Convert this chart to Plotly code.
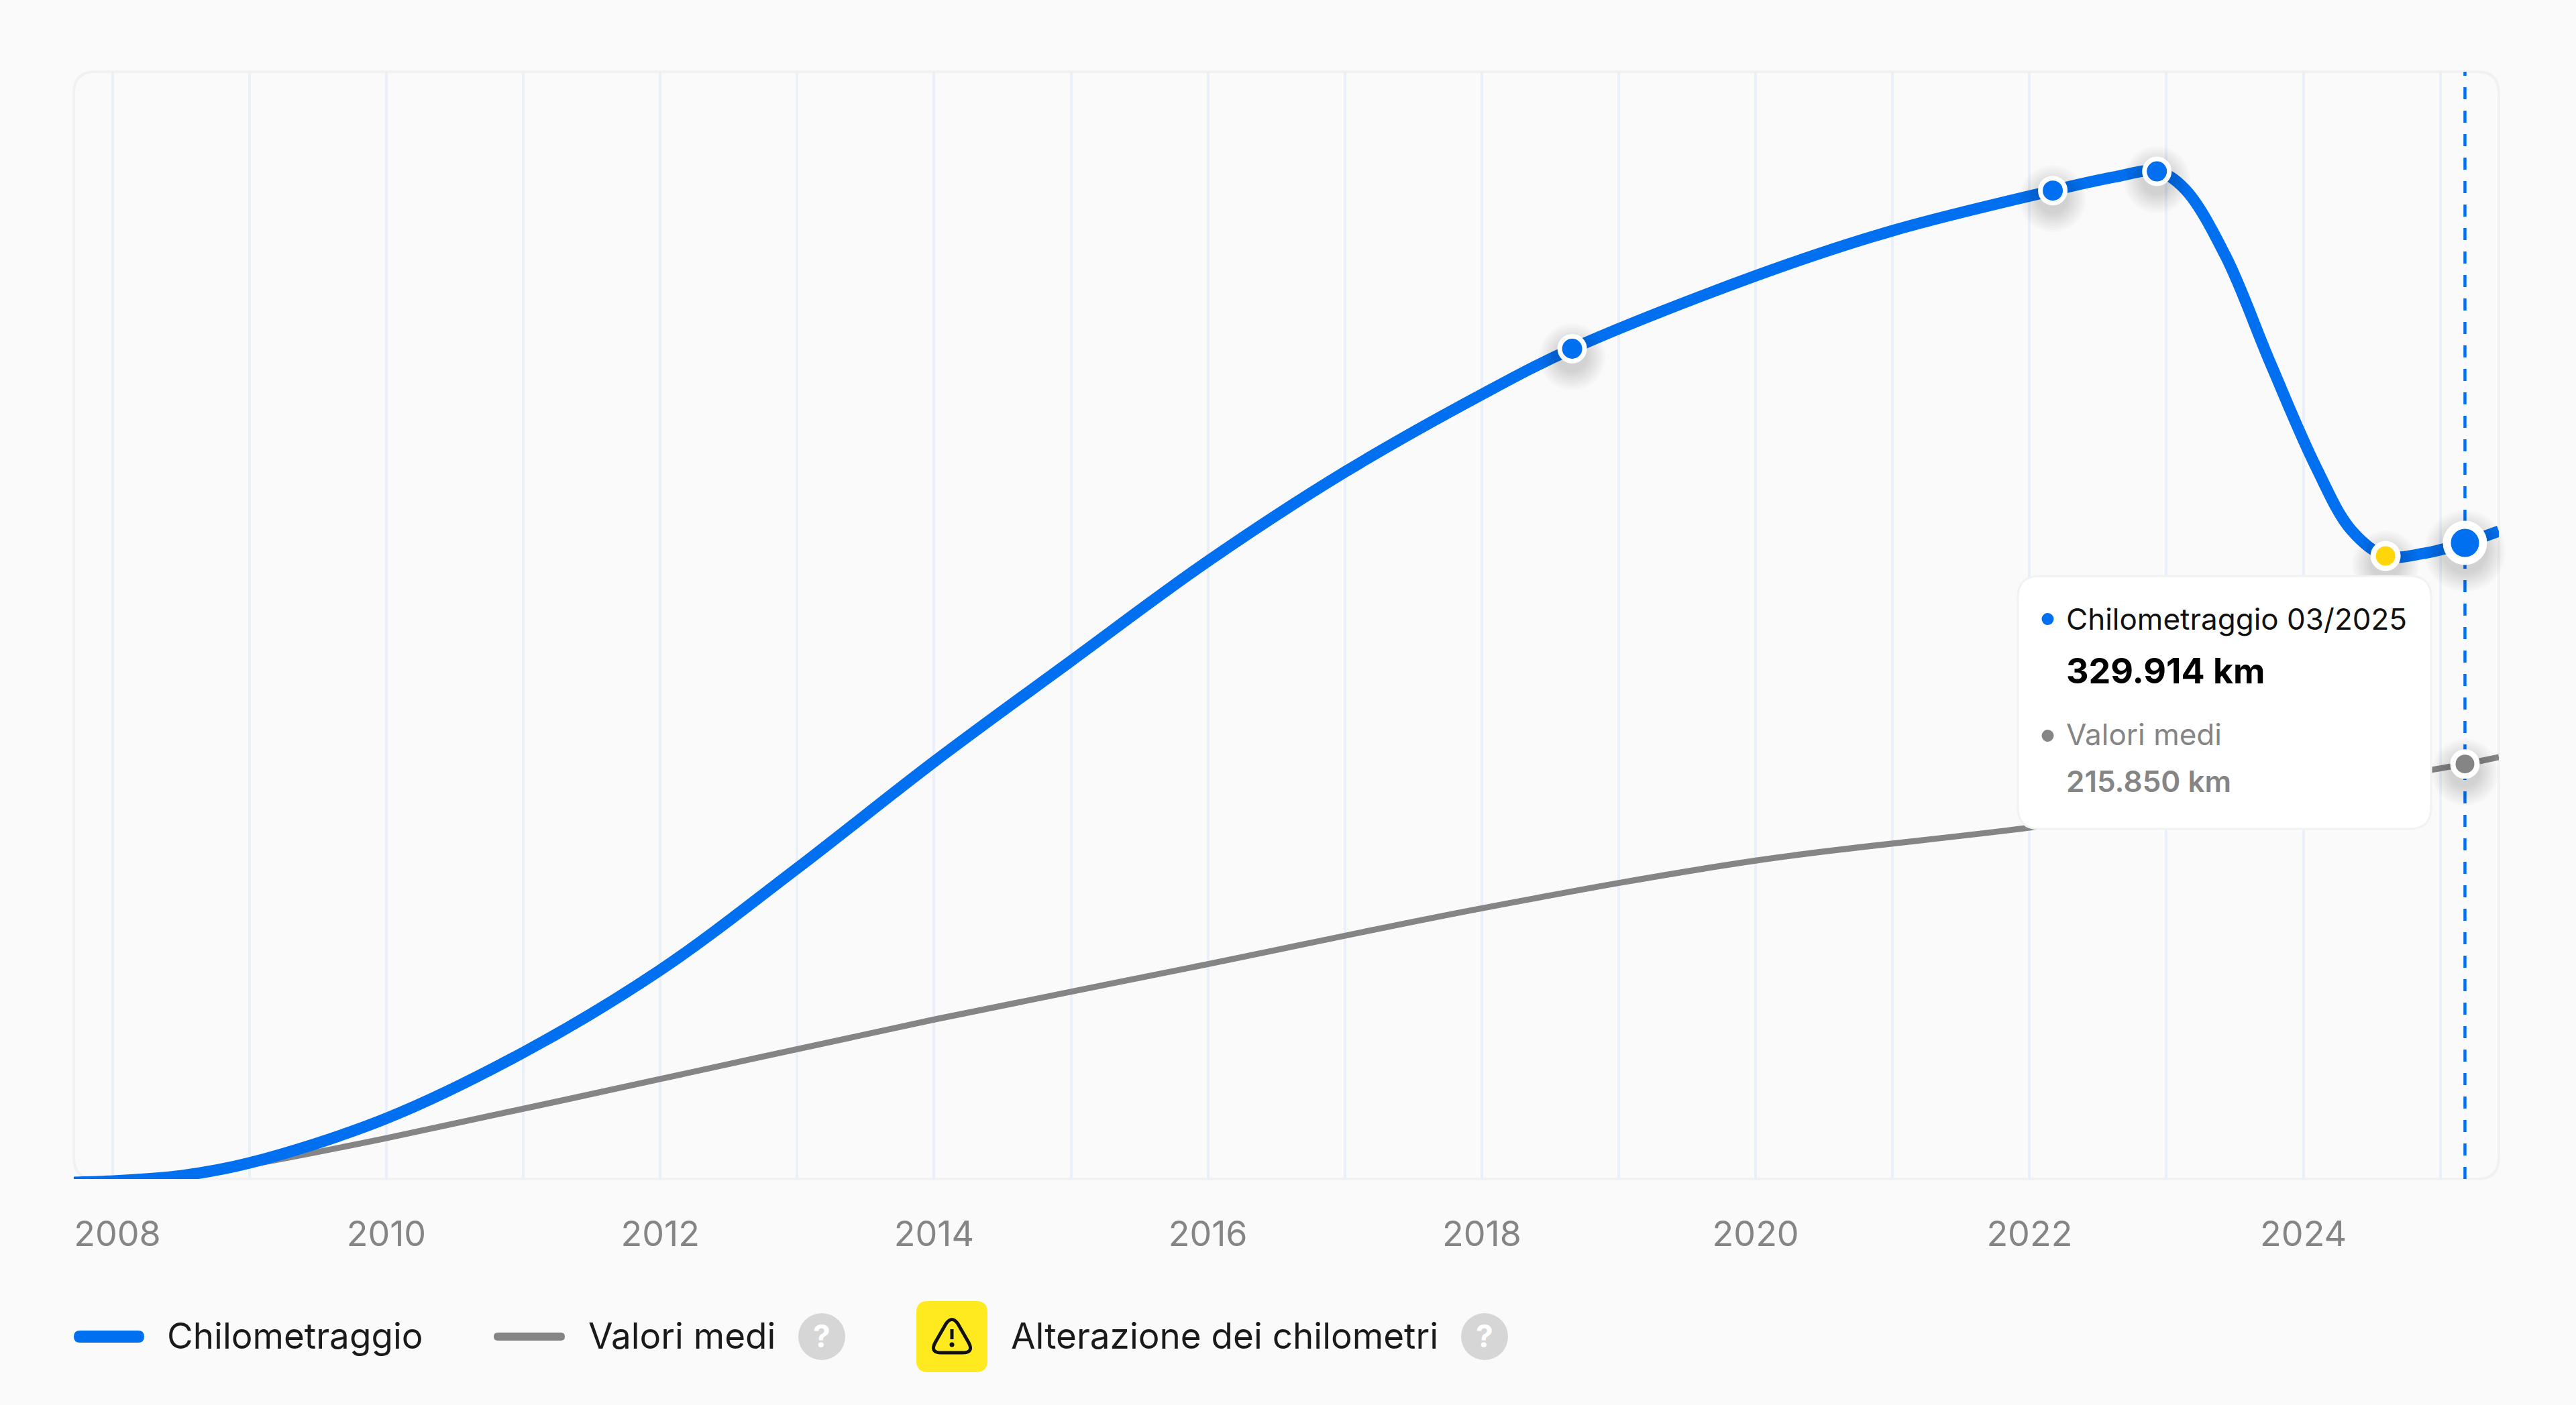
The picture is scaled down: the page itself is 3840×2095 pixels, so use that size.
import plotly.graph_objects as go

FONT = "Inter"
BG = "#FAFAFA"
BLUE = "#0070F0"
GREY = "#858585"
YELLOW = "#FFD60A"
GRID = "#E9F0F9"
FRAME = "#F1F1F1"
INK = "#1A1A1A"

# page size and plot box, in pixels
W, H = 3840, 2095
L, R, T, B = 110, 3725, 107, 1758

# ── Data ──────────────────────────────────────────────────────────────────────
years = list(range(2008, 2026))
label_years = [2008, 2010, 2012, 2014, 2016, 2018, 2020, 2022, 2024]

km_x = [2007.7175, 2007.97, 2008.5, 2009.0, 2010.0, 2011.0, 2012.0, 2013.0, 2014.0, 2015.0, 2016.0, 2017.0,
        2018.0, 2018.66, 2020.0, 2021.0, 2022.17, 2022.62, 2022.93, 2023.13, 2023.43, 2023.76, 2024.09,
        2024.35, 2024.6, 2024.88, 2025.18, 2025.4275]
km_y = [0, 600, 3400, 10000, 33000, 67000, 109500, 162000, 217000, 269000, 320500, 366500,
        406500, 430100, 467700, 491000, 511700, 518700, 521600, 512800, 478200, 422500, 369400,
        336500, 323200, 324500, 329914, 336000]

avg_x = [2007.7175, 2007.97, 2008.5, 2009.0, 2010.0, 2012.0, 2014.0, 2016.0, 2018.0, 2020.0, 2022.0, 2024.0,
         2025.18, 2025.4275]
avg_y = [0, 600, 3400, 9000, 22800, 53300, 84000, 112600, 141400, 166000, 183000, 202300,
         215850, 219400]

marker_x = [2007.97, 2018.66, 2022.17, 2022.93]
marker_y = [600, 430100, 511700, 521600]
alert_x = [2024.6]
alert_y = [323200]
hover_x = 2025.18
hover_km = 329914
hover_avg = 215850


def px(x):
    return (x - L) / (R - L)


def py(y):
    return (B - y) / (B - T)


def to_path(cmds):
    """Path string in paper coordinates, from (command, x, y, ...) tuples in pixels."""
    out = ""
    for p in cmds:
        vals = p[1:]
        coords = [f"{px(vals[i]):.6f},{py(vals[i + 1]):.6f}" for i in range(0, len(vals), 2)]
        out += p[0] + " ".join(coords) + " "
    return out + "Z"


def round_rect(x0, y0, x1, y1, r):
    return to_path([("M", x0 + r, y0), ("L", x1 - r, y0), ("Q", x1, y0, x1, y0 + r), ("L", x1, y1 - r),
                    ("Q", x1, y1, x1 - r, y1), ("L", x0 + r, y1), ("Q", x0, y1, x0, y1 - r),
                    ("L", x0, y0 + r), ("Q", x0, y0, x0 + r, y0)])


def circle(cx, cy, r, color):
    return dict(type="circle", xref="paper", yref="paper", layer="above",
                x0=px(cx - r), x1=px(cx + r), y0=py(cy + r), y1=py(cy - r),
                fillcolor=color, line_width=0)


def label(x, y, text, color=INK, size=53, weight=400, anchor="left"):
    return dict(x=px(x), y=py(y), xref="paper", yref="paper", text=text, showarrow=False,
                xanchor=anchor, yanchor="middle", align="left",
                font=dict(family=FONT, size=size, color=color, weight=weight))


fig = go.Figure()

# dashed hover guide
fig.add_trace(go.Scatter(x=[hover_x, hover_x], y=[1730, 573000], mode="lines",
                         line=dict(color=BLUE, width=4.5, dash="18px,17px"), hoverinfo="skip"))

fig.add_trace(go.Scatter(x=avg_x, y=avg_y, mode="lines", name="Valori medi",
                         line=dict(color=GREY, width=9, shape="spline", smoothing=1.0)))
fig.add_trace(go.Scatter(x=km_x, y=km_y, mode="lines", name="Chilometraggio",
                         line=dict(color=BLUE, width=17, shape="spline", smoothing=1.0)))


# soft drop shadows below the markers
def shadow(x, y, size):
    for k in range(10):
        fig.add_trace(go.Scatter(x=x, y=[v - 4200 for v in y], mode="markers", hoverinfo="skip",
                                 marker=dict(size=size + 56 - k * 6, color="rgba(0,0,0,0.016)",
                                             line_width=0)))


shadow(marker_x + alert_x + [hover_x], marker_y + alert_y + [hover_avg], 44)
shadow([hover_x], [hover_km], 66)

fig.add_trace(go.Scatter(x=marker_x, y=marker_y, mode="markers",
                         marker=dict(size=37, color=BLUE, line=dict(color="white", width=7))))
fig.add_trace(go.Scatter(x=alert_x, y=alert_y, mode="markers",
                         marker=dict(size=37, color=YELLOW, line=dict(color="white", width=8))))
fig.add_trace(go.Scatter(x=[hover_x], y=[hover_avg], mode="markers",
                         marker=dict(size=36, color=GREY, line=dict(color="white", width=8))))
fig.add_trace(go.Scatter(x=[hover_x], y=[hover_km], mode="markers",
                         marker=dict(size=54, color=BLUE, line=dict(color="white", width=12))))
fig.update_traces(cliponaxis=False)

warning_path = to_path([("M", 1410, 1974), ("Q", 1419, 1961, 1428, 1974), ("L", 1444, 2002),
                        ("Q", 1452, 2017, 1435, 2017), ("L", 1403, 2017), ("Q", 1386, 2017, 1394, 2002)])

shapes = [
    # plot frame
    dict(type="path", xref="paper", yref="paper", layer="below", path=round_rect(L, T, R, B, 32),
         line=dict(color=FRAME, width=4), fillcolor="rgba(0,0,0,0)"),
    # tooltip card
    dict(type="path", xref="paper", yref="paper", layer="above", path=round_rect(3008, 859, 3624, 1236, 32),
         line=dict(color="#F2F2F2", width=3), fillcolor="white"),
    circle(3052.5, 923, 9, BLUE),
    circle(3052.5, 1097, 9, GREY),
    # legend keys
    dict(type="path", xref="paper", yref="paper", layer="above", path=round_rect(110, 1984, 215, 2002, 9),
         fillcolor=BLUE, line_width=0),
    dict(type="path", xref="paper", yref="paper", layer="above", path=round_rect(736, 1987, 842, 1999, 6),
         fillcolor=GREY, line_width=0),
    circle(1225, 1993, 35, "#D6D6D6"),
    dict(type="path", xref="paper", yref="paper", layer="above", path=round_rect(1366, 1940, 1472, 2046, 17),
         fillcolor="#FFEA20", line_width=0),
    circle(2213, 1993, 35, "#D6D6D6"),
    # warning icon
    dict(type="path", xref="paper", yref="paper", layer="above", path=warning_path,
         line=dict(color="#111111", width=5), fillcolor="rgba(0,0,0,0)"),
    dict(type="line", xref="paper", yref="paper", layer="above", x0=px(1419), x1=px(1419), y0=py(1982), y1=py(1997),
         line=dict(color="#111111", width=5)),
    circle(1419, 2005, 3.5, "#111111"),
]

annotations = [
    label(247, 1992, "Chilometraggio"),
    label(875, 1992, "Valori medi"),
    label(1225, 1992, "?", color="white", size=46, weight=700, anchor="center"),
    label(1505, 1992, "Alterazione dei chilometri"),
    label(2213, 1992, "?", color="white", size=46, weight=700, anchor="center"),
    label(3078, 923, "Chilometraggio 03/2025", color="#111111", size=44),
    label(3078, 1000, "329.914 km", color="#000000", size=52, weight=700),
    label(3078, 1095, "Valori medi", color=GREY, size=44),
    label(3078, 1165, "215.850 km", color=GREY, size=44, weight=600),
]

fig.update_layout(
    width=W,
    height=H,
    paper_bgcolor=BG,
    plot_bgcolor=BG,
    showlegend=False,
    margin=dict(l=L, r=W - R, t=T, b=H - B, pad=0),
    shapes=shapes,
    annotations=annotations,
    xaxis=dict(range=[2007.7175, 2025.4275], tickmode="array", tickvals=years,
               ticktext=[("\u00a0" + str(v) if v == 2008 else str(v)) if v in label_years else "" for v in years],
               showgrid=True, gridcolor=GRID, gridwidth=4, zeroline=False, showline=False, ticks="",
               tickfont=dict(family=FONT, size=52, color=GREY), ticklabelstandoff=47),
    yaxis=dict(range=[1730, 573000], showgrid=False, zeroline=False, showticklabels=False, showline=False),
)

fig.write_html("out.html", post_script="document.body.style.margin='0';", config=dict(displayModeBar=False))
